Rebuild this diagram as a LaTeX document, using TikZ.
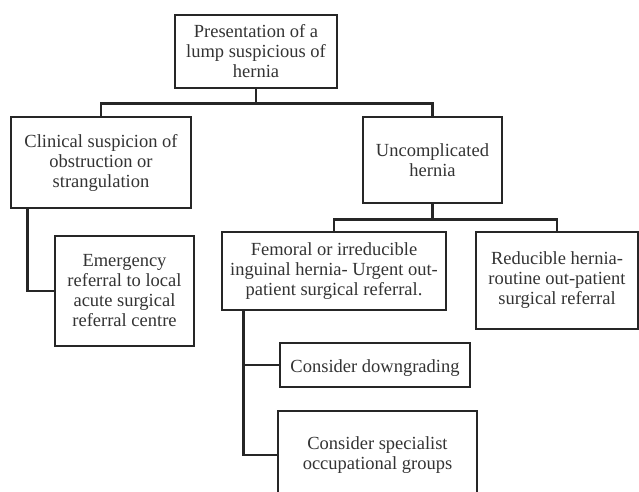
\documentclass[tikz,border=0pt]{standalone}
\usepackage{fontspec}
\setmainfont{Liberation Serif}
\tikzset{
  box/.style={draw=black!85, line width=2.6pt, align=center, inner sep=2pt,
    text=black!80, font=\fontsize{18.5}{20}\selectfont,
    execute at begin node={\rule{0pt}{19pt}}},
  link/.style={draw=black!85, line width=2.6pt},
}
\begin{document}
\begin{tikzpicture}[x=1pt, y=1pt]
\useasboundingbox (0,0) rectangle (639,-491);
\clip (0,0) rectangle (639,-491);

% boxes
\node[box, minimum width=162, minimum height=73] (top) at (256,-51.5)
  {Presentation of a\\lump suspicious of\\hernia};
\node[box, minimum width=180, minimum height=91] (clin) at (101,-162.5)
  {Clinical suspicion of\\obstruction or\\strangulation};
\node[box, minimum width=139, minimum height=86] (unc) at (432.5,-160)
  {Uncomplicated\\hernia};
\node[box, minimum width=139, minimum height=110] (emerg) at (124.5,-291)
  {Emergency\\referral to local\\acute surgical\\referral centre};
\node[box, minimum width=224, minimum height=78] (fem) at (334,-271)
  {Femoral or irreducible\\inguinal hernia- Urgent out-\\patient surgical referral.};
\node[box, minimum width=162, minimum height=97] (red) at (557,-280.5)
  {Reducible hernia-\\routine out-patient\\surgical referral};
\node[box, minimum width=190, minimum height=44] (down) at (375,-365)
  {Consider downgrading};
\node[box, minimum width=199, minimum height=88] (spec) at (377.5,-455)
  {Consider specialist\\occupational groups};

% connectors
\draw[link] (top.south) -- ++(0,-14) coordinate (j1);
\draw[link] (j1) -| (clin.north);
\draw[link] (j1) -| (unc.north);
\draw[link] ([xshift=18]clin.south west) |- (emerg.west);
\draw[link] (unc.south) -- ++(0,-15) coordinate (j2);
\draw[link] (j2) -| (fem.north);
\draw[link] (j2) -| (red.north);
\draw[link] ([xshift=23]fem.south west) |- (down.west);
\draw[link] ([xshift=23]fem.south west) |- (spec.west);
\end{tikzpicture}
\end{document}
